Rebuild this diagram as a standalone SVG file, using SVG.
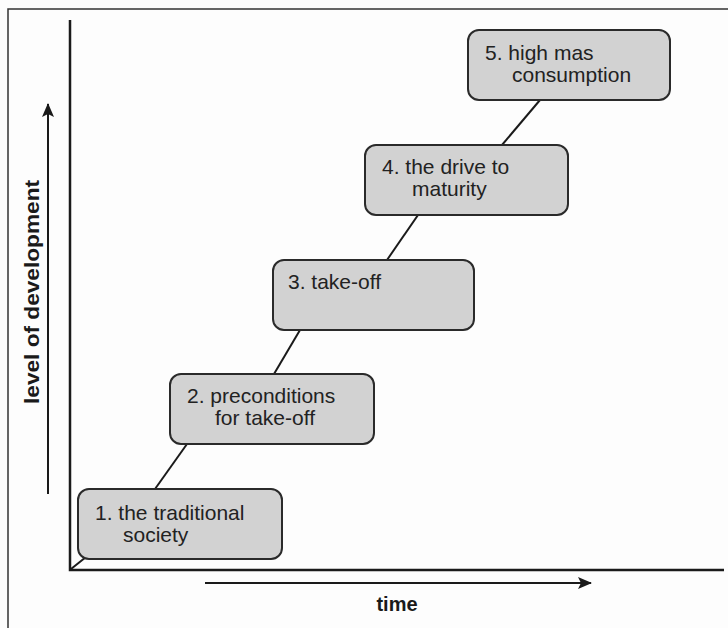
<svg xmlns="http://www.w3.org/2000/svg" width="728" height="628" viewBox="0 0 728 628">
<defs>
<marker id="ah" viewBox="0 0 14 12" refX="13" refY="6" markerWidth="14" markerHeight="12" markerUnits="userSpaceOnUse" orient="auto">
<path d="M0,0 L14,6 L0,12 L3,6 z" fill="#1a1a1a"/>
</marker>
<style>
.box{fill:#d2d2d2;stroke:#2a2a2a;stroke-width:2}
.t{font-family:"Liberation Sans",Arial,sans-serif;font-size:21px;fill:#222}
.lab{font-family:"Liberation Sans",Arial,sans-serif;font-size:20px;font-weight:bold;fill:#1a1a1a}
.ax{stroke:#1a1a1a;stroke-width:2.5;fill:none}
.ln{stroke:#1a1a1a;stroke-width:2;fill:none}
</style>
</defs>
<rect width="728" height="628" fill="#fdfdfd"/>
<path d="M8,628 L8,9 L728,9" fill="none" stroke="#333" stroke-width="1.5"/>
<g id="axes">
<path class="ax" d="M70,20 L70,570 L724,570"/>
</g>
<g id="connectors">
<path class="ln" d="M71,569 L86,557"/>
<path class="ln" d="M155,489 L187,444"/>
<path class="ln" d="M274,374 L300,330"/>
<path class="ln" d="M387,260 L418,215"/>
<path class="ln" d="M502,145 L540,100"/>
<line class="ln" x1="48" y1="494" x2="48" y2="104" marker-end="url(#ah)" stroke-width="2.5"/>
<line class="ln" x1="205" y1="583" x2="591" y2="583" marker-end="url(#ah)" stroke-width="2.5"/>
</g>
<g id="ylabel"><text class="lab" transform="translate(39,292) rotate(-90)" text-anchor="middle" textLength="224" lengthAdjust="spacingAndGlyphs">level of development</text></g>
<g id="xlabel"><text class="lab" x="397" y="611" text-anchor="middle">time</text></g>
<g id="n1"><rect class="box" x="78" y="489" width="204" height="70" rx="11"/><text class="t" x="95" y="520">1. the traditional</text><text class="t" x="123" y="542">society</text></g>
<g id="n2"><rect class="box" x="170" y="374" width="204" height="70" rx="11"/><text class="t" x="187" y="403">2. preconditions</text><text class="t" x="215" y="425">for take-off</text></g>
<g id="n3"><rect class="box" x="273" y="260" width="201" height="70" rx="11"/><text class="t" x="288" y="289">3. take-off</text></g>
<g id="n4"><rect class="box" x="365" y="145" width="203" height="70" rx="11"/><text class="t" x="382" y="174">4. the drive to</text><text class="t" x="412" y="196">maturity</text></g>
<g id="n5"><rect class="box" x="468" y="30" width="202" height="70" rx="11"/><text class="t" x="485" y="60">5. high mas</text><text class="t" x="512" y="82">consumption</text></g>
</svg>
